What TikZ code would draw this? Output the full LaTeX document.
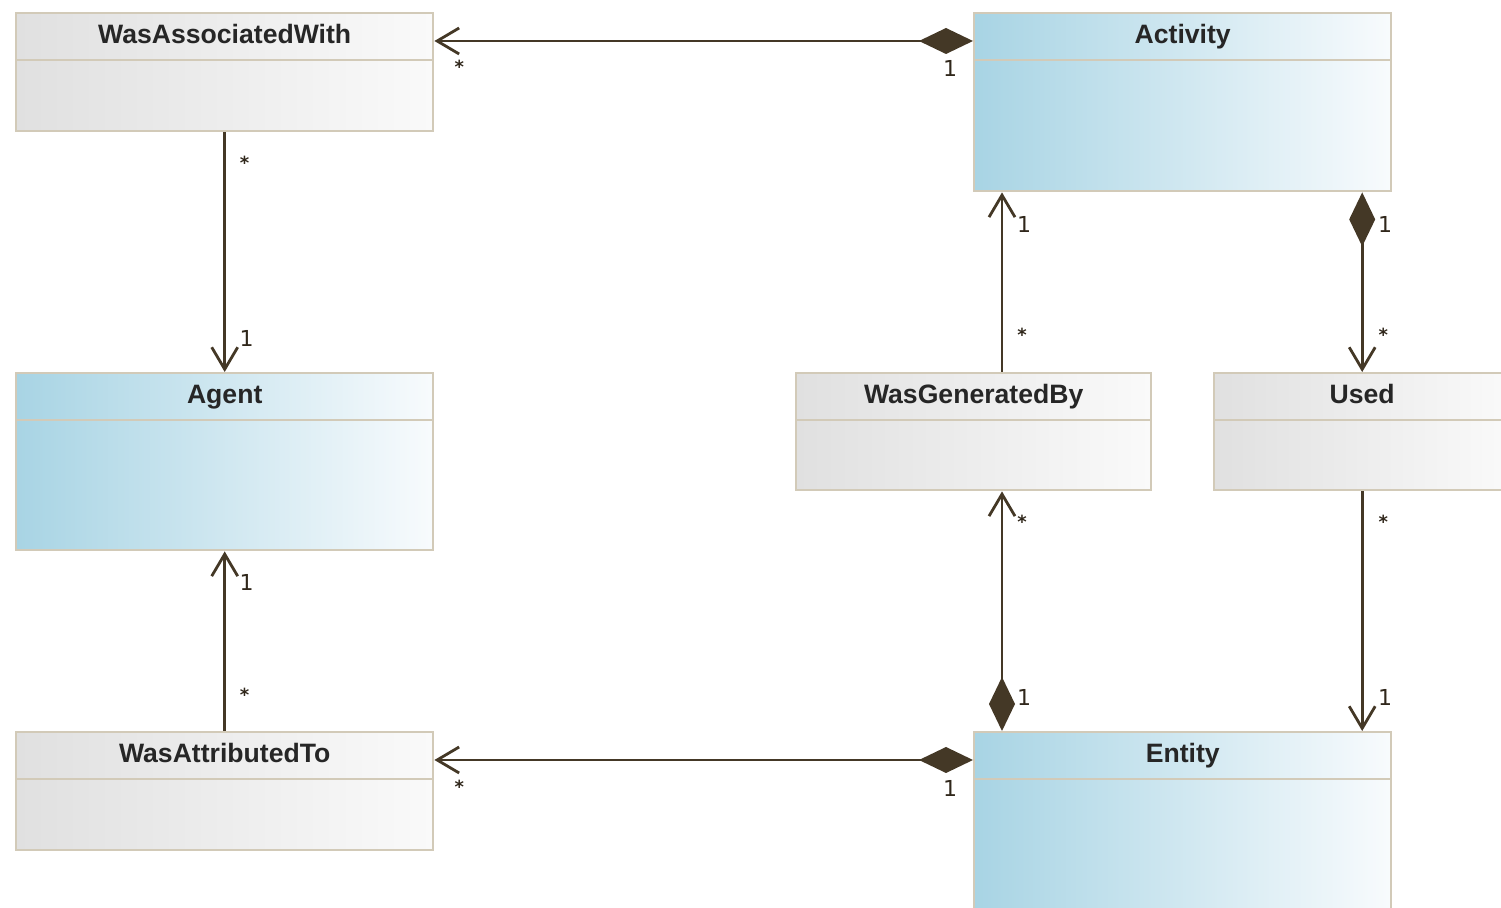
\documentclass[tikz,border=0pt]{standalone}
\usepackage{fontspec}
\usetikzlibrary{arrows.meta}
\newfontfamily\titlefont{Liberation Sans}
\newfontfamily\multfont{DejaVu Sans}

\definecolor{lnbrown}{RGB}{68,56,38}
\definecolor{edgetan}{RGB}{210,202,184}
\definecolor{clsblue}{RGB}{168,212,228}
\definecolor{clsbluel}{RGB}{248,251,253}
\definecolor{clsgray}{RGB}{224,224,224}
\definecolor{clsgrayl}{RGB}{250,250,250}

\tikzset{
  cls/.style={draw=edgetan, line width=1.2pt, inner sep=0pt, anchor=north west},
  bluecls/.style={cls, left color=clsblue, right color=clsbluel},
  graycls/.style={cls, left color=clsgray, right color=clsgrayl},
  title/.style={font=\titlefont\bfseries\fontsize{13.3}{16}\selectfont, text=black!85, inner sep=0pt, anchor=base},
  sepline/.style={draw=edgetan, line width=1.2pt},
  assoc/.style={draw=lnbrown, line width=1.4pt, -{Straight Barb[length=11pt,width=13pt]}},
  comp/.style={draw=lnbrown, line width=1.4pt, {Diamond[length=27pt,width=13pt]}-{Straight Barb[length=11pt,width=13pt]}},
  mult/.style={font=\multfont\fontsize{11}{13}\selectfont, text=lnbrown!70!black, inner sep=0pt},
  many/.style={mult, font=\multfont\bfseries\fontsize{9}{11}\selectfont}
}

\begin{document}
\begin{tikzpicture}[x=0.5pt, y=-0.5pt]
    \path[use as bounding box] (0,0) rectangle (1501,908);
    \clip (0,0) rectangle (1501,908);

    % classes
    \node[graycls, minimum width=208.5pt, minimum height=59pt] (waw) at (15,12) {};
    \node[title] (waw-t) at ([yshift=-16pt]waw.north) {WasAssociatedWith};
    \draw[sepline] ([yshift=-24pt]waw.north west) -- ([yshift=-24pt]waw.north east);

    \node[bluecls, minimum width=208.5pt, minimum height=89pt] (act) at (973,12) {};
    \node[title] (act-t) at ([yshift=-16pt]act.north) {Activity};
    \draw[sepline] ([yshift=-24pt]act.north west) -- ([yshift=-24pt]act.north east);

    \node[bluecls, minimum width=208.5pt, minimum height=88.5pt] (agent) at (15,372) {};
    \node[title] (agent-t) at ([yshift=-16pt]agent.north) {Agent};
    \draw[sepline] ([yshift=-24pt]agent.north west) -- ([yshift=-24pt]agent.north east);

    \node[graycls, minimum width=177.5pt, minimum height=58.5pt] (wgb) at (795,372) {};
    \node[title] (wgb-t) at ([yshift=-16pt]wgb.north) {WasGeneratedBy};
    \draw[sepline] ([yshift=-24pt]wgb.north west) -- ([yshift=-24pt]wgb.north east);

    \node[graycls, minimum width=148pt, minimum height=58.5pt] (used) at (1213,372) {};
    \node[title] (used-t) at ([yshift=-16pt]used.north) {Used};
    \draw[sepline] ([yshift=-24pt]used.north west) -- ([yshift=-24pt]used.north east);

    \node[graycls, minimum width=208.5pt, minimum height=59pt] (wat) at (15,731) {};
    \node[title] (wat-t) at ([yshift=-16pt]wat.north) {WasAttributedTo};
    \draw[sepline] ([yshift=-24pt]wat.north west) -- ([yshift=-24pt]wat.north east);

    \node[bluecls, minimum width=208.5pt, minimum height=89pt] (ent) at (973,731) {};
    \node[title] (ent-t) at ([yshift=-16pt]ent.north) {Entity};
    \draw[sepline] ([yshift=-24pt]ent.north west) -- ([yshift=-24pt]ent.north east);

    % x of the left vertical links
    \coordinate (genx) at ([xshift=14.5pt]act.south west);

    % associations
    \draw[comp] ([yshift=-14.5pt]act.north west) -- ([yshift=-14.5pt]waw.north east)
        node[mult, at start, xshift=-11.5pt, yshift=-13.5pt] (m1a) {1}
        node[many, at end, xshift=12.5pt, yshift=-13pt] (m1b) {*};
    \draw[assoc] (waw.south) -- (agent.north)
        node[many, at start, xshift=10pt, yshift=-15pt] (m2a) {*}
        node[mult, at end, xshift=11pt, yshift=17pt] (m2b) {1};
    \draw[assoc] (wat.north) -- (agent.south)
        node[many, at start, xshift=10pt, yshift=18pt] (m3a) {*}
        node[mult, at end, xshift=11pt, yshift=-15.5pt] (m3b) {1};
    \draw[comp] ([yshift=-14.5pt]ent.north west) -- ([yshift=-14.5pt]wat.north east)
        node[mult, at start, xshift=-11.5pt, yshift=-14pt] (m4a) {1}
        node[many, at end, xshift=12.5pt, yshift=-13.5pt] (m4b) {*};
    \draw[assoc] (genx |- wgb.north) -- (genx)
        node[many, at start, xshift=10pt, yshift=18.5pt] (m5a) {*}
        node[mult, at end, xshift=11pt, yshift=-16pt] (m5b) {1};
    \draw[comp] (used.north |- act.south) -- (used.north)
        node[mult, at start, xshift=11.5pt, yshift=-16pt] (m6a) {1}
        node[many, at end, xshift=10.5pt, yshift=18.5pt] (m6b) {*};
    \draw[comp] (genx |- ent.north) -- (genx |- wgb.south)
        node[mult, at start, xshift=11pt, yshift=17pt] (m7a) {1}
        node[many, at end, xshift=10pt, yshift=-15pt] (m7b) {*};
    \draw[assoc] (used.south) -- (used.south |- ent.north)
        node[many, at start, xshift=10.5pt, yshift=-15pt] (m8a) {*}
        node[mult, at end, xshift=11.5pt, yshift=17pt] (m8b) {1};
\end{tikzpicture}
\end{document}
